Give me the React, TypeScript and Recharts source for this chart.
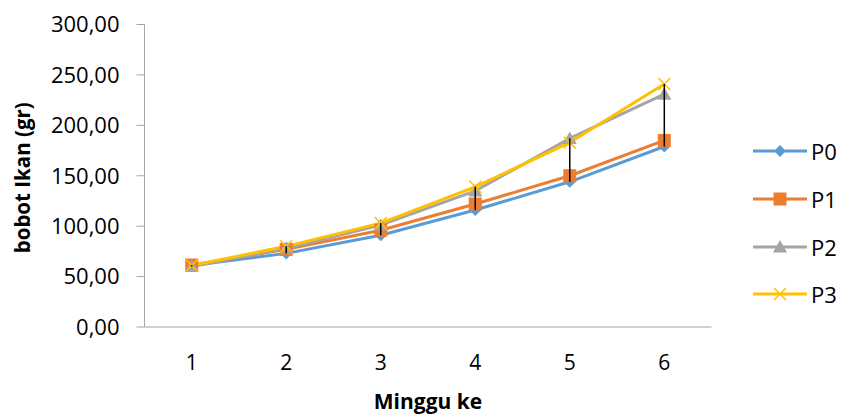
import React from "react";
import {
  LineChart,
  Line,
  XAxis,
  YAxis,
  ReferenceLine,
} from "recharts";

const weeks = ["1", "2", "3", "4", "5", "6"];
const p0 = [61, 73, 91, 116, 144, 179];
const p1 = [61.5, 77, 96, 122, 150, 185];
const p2 = [60, 78, 101, 135, 187, 231];
const p3 = [61, 80, 103, 139, 183, 241];
const yTicks = [0, 50, 100, 150, 200, 250, 300];

const seriesNames = ["P0", "P1", "P2", "P3"];
const colors = ["#5B9BD5", "#ED7D31", "#A5A5A5", "#FFC000"];
const FONT = "'Open Sans', sans-serif";

const data = weeks.map((w, i) => ({
  week: w,
  P0: p0[i],
  P1: p1[i],
  P2: p2[i],
  P3: p3[i],
}));

const hiLo = weeks.map((w, i) => {
  const vals = [p0[i], p1[i], p2[i], p3[i]];
  return { week: w, lo: Math.min(...vals), hi: Math.max(...vals) };
});

const fmt = (v: number) => v.toFixed(2).replace(".", ",");

function Marker({ kind, cx, cy, color }: { kind: number; cx: number; cy: number; color: string }) {
  if (cx == null || cy == null) return null;
  if (kind === 0) {
    const r = 6;
    return <path d={`M${cx},${cy - r} L${cx + r},${cy} L${cx},${cy + r} L${cx - r},${cy} Z`} fill={color} />;
  }
  if (kind === 1) {
    const r = 6.5;
    return <rect x={cx - r} y={cy - r} width={r * 2} height={r * 2} fill={color} />;
  }
  if (kind === 2) {
    const r = 7;
    return <path d={`M${cx},${cy - r} L${cx + r},${cy + r * 0.8} L${cx - r},${cy + r * 0.8} Z`} fill={color} />;
  }
  const r = 6;
  return (
    <path
      d={`M${cx - r},${cy - r} L${cx + r},${cy + r} M${cx - r},${cy + r} L${cx + r},${cy - r}`}
      stroke={color}
      strokeWidth={1.5}
      fill="none"
    />
  );
}

export default function App() {
  return (
    <div style={{ position: "absolute", left: 0, top: 0, width: 841, height: 416, background: "#fff" }}>
      <LineChart
        width={841}
        height={416}
        data={data}
        margin={{ top: 24.5, right: 129.5, left: 0, bottom: 0 }}
      >
        <XAxis
          dataKey="week"
          height={89}
          padding={{ left: 47.2, right: 47.2 }}
          stroke="#A6A6A6"
          tickLine={false}
          tickSize={0}
          tickMargin={28}
          tick={{ fill: "#000", fontSize: 21, fontFamily: FONT }}
          label={{
            value: "Minggu ke",
            position: "insideBottom",
            offset: 7,
            fill: "#000",
            fontSize: 21,
            fontWeight: "bold",
            fontFamily: FONT,
          }}
        />
        <YAxis
          width={144.5}
          domain={[0, 300]}
          ticks={yTicks}
          tickFormatter={fmt}
          stroke="#A6A6A6"
          tickSize={8}
          tickMargin={17}
          tick={{ fill: "#000", fontSize: 22, fontFamily: FONT }}
          label={{
            content: ({ viewBox }: any) => {
              const cy = viewBox.y + viewBox.height / 2 + 2;
              return (
                <text
                  x={22}
                  y={cy}
                  transform={`rotate(-90, 22, ${cy})`}
                  textAnchor="middle"
                  dominantBaseline="central"
                  fontSize={20.5}
                  fontWeight="bold"
                  fontFamily={FONT}
                  fill="#000"
                >
                  bobot Ikan (gr)
                </text>
              );
            },
          }}
        />
        {seriesNames.map((name, k) => (
          <Line
            key={name}
            dataKey={name}
            stroke={colors[k]}
            strokeWidth={3}
            isAnimationActive={false}
            dot={(props: any) => (
              <Marker key={`${name}-${props.index}`} kind={k} cx={props.cx} cy={props.cy} color={colors[k]} />
            )}
            activeDot={false}
          />
        ))}
        {hiLo.map((d) => (
          <ReferenceLine
            key={d.week}
            zIndex={2000}
            segment={[
              { x: d.week, y: d.lo },
              { x: d.week, y: d.hi },
            ]}
            stroke="#000"
            strokeWidth={1.5}
          />
        ))}
      </LineChart>
      {seriesNames.map((name, k) => (
        <div
          key={name}
          style={{
            position: "absolute",
            left: 752,
            top: 151 + k * 47.8 - 16,
            height: 32,
            display: "flex",
            alignItems: "center",
            fontFamily: FONT,
            fontSize: 22,
          }}
        >
          <svg width={56} height={20}>
            <line x1={1} y1={10} x2={55} y2={10} stroke={colors[k]} strokeWidth={3} />
            <Marker kind={k} cx={28} cy={10} color={colors[k]} />
          </svg>
          <span style={{ marginLeft: 3 }}>{name}</span>
        </div>
      ))}
    </div>
  );
}
